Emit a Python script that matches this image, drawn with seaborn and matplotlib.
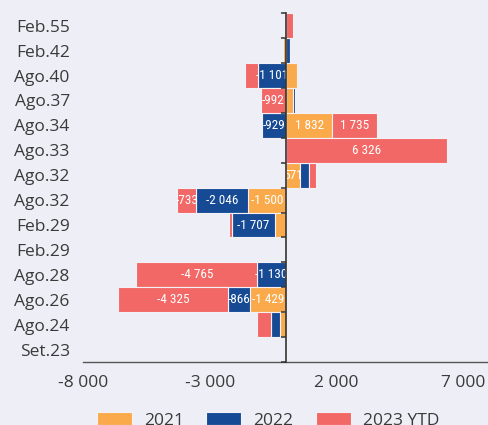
import matplotlib
matplotlib.use("Agg")
import matplotlib.pyplot as plt
from matplotlib import font_manager
import numpy as np
import pandas as pd
import seaborn as sns

# Categories (top to bottom) and yearly values per category
categories = ["Feb.55", "Feb.42", "Ago.40", "Ago.37", "Ago.34", "Ago.33", "Ago.32",
              "Ago.32", "Feb.29", "Feb.29", "Ago.28", "Ago.26", "Ago.24", "Set.23"]
series_names = ["2021", "2022", "2023 YTD"]
values_2021 = [0, -130, 420, 260, 1832, 0, 571, -1500, -433, 0, 40, -1429, -250, 45]
values_2022 = [-20, 140, -1101, 90, -929, 0, 330, -2046, -1707, 0, -1130, -866, -330, 0]
values_2023 = [285, 0, -500, -992, 1735, 6326, 290, -733, -90, 0, -4765, -4325, -560, -55]
series_colors = ["#FBAA4B", "#174A94", "#F26866"]
x_ticks = [-8000, -3000, 2000, 7000]

BG = "#EEEEF6"
TEXT = "#3A3A3A"
LABEL_MIN = 570  # segments shorter than this carry no value label

def fmt(v):
    return f"{v:,}".replace(",", " ")

# Pick a narrow face for the in-bar value labels
fonts = font_manager.fontManager.ttflist
names = {f.name for f in fonts}
label_font = dict(family="Roboto", fontsize=7.6)
for cand in ["Liberation Sans Narrow", "Roboto Condensed", "Open Sans Condensed",
             "DejaVu Sans Condensed", "Noto Sans Condensed"]:
    if cand in names:
        label_font = dict(family=cand, fontsize=9.5)
        break
else:
    if any(f.name == "DejaVu Sans" and f.stretch == "condensed" for f in fonts):
        label_font = dict(family="DejaVu Sans", fontstretch="condensed", fontsize=8.5)

sns.set_theme(style="white")
plt.rcParams["font.family"] = ["Open Sans", "DejaVu Sans"]

row_ids = [f"r{i}" for i in range(len(categories))]
df = pd.DataFrame({"row": row_ids, "2021": values_2021,
                   "2022": values_2022, "2023 YTD": values_2023})

fig = plt.figure(figsize=(4.89, 4.25), dpi=100, facecolor=BG)
ax = fig.add_axes([83 / 489, 63 / 425, 406 / 489, 348.7 / 425])
ax.set_facecolor(BG)

# Diverging stack: positives grow rightwards, negatives leftwards from zero
pos_base = np.zeros(len(df))
neg_base = np.zeros(len(df))
for name, color in zip(series_names, series_colors):
    vals = df[name].to_numpy(dtype=float)
    left = np.where(vals >= 0, pos_base, neg_base)
    sns.barplot(data=df, y="row", x=name, order=row_ids, orient="h",
                color=color, saturation=1, width=1.0, left=left,
                edgecolor="#F3F1F6", linewidth=0.8, ax=ax)
    pos_base = pos_base + np.clip(vals, 0, None)
    neg_base = neg_base + np.clip(vals, None, 0)
    labels = [fmt(int(v)) if abs(v) >= LABEL_MIN else "" for v in vals]
    ax.bar_label(ax.containers[-1], labels=labels, label_type="center",
                 color="white", **label_font)

ax.set_xlim(-8000, 8000)
ax.set_ylim(len(categories) - 0.5, -0.5)
ax.set_xticks(x_ticks)
ax.set_xticklabels([fmt(t) for t in x_ticks])
ax.set_yticks(range(len(categories)))
ax.set_yticklabels(categories)
ax.set_xlabel("")
ax.set_ylabel("")

ax.tick_params(axis="y", length=0, pad=9.5, labelsize=12.5, labelcolor=TEXT)
ax.tick_params(axis="x", length=3.4, width=1, color="#555555", pad=6,
               labelsize=12.5, labelcolor=TEXT)
for side in ["left", "top", "right"]:
    ax.spines[side].set_visible(False)
ax.spines["bottom"].set_color("#555555")
ax.spines["bottom"].set_linewidth(1)

# Zero axis with band-boundary ticks, drawn above the bars
zero_axis = ax.secondary_yaxis(0, transform=ax.transData)
zero_axis.set_zorder(5)
zero_axis.set_yticks(np.arange(len(categories) + 1) - 0.5)
zero_axis.set_yticklabels([])
zero_axis.tick_params(axis="y", left=True, length=3.5, width=1.1, color="#333333")
zero_axis.spines["left"].set_color("#333333")
zero_axis.spines["left"].set_linewidth(1.2)

fig.legend(ax.containers, series_names, loc="upper left",
           bbox_to_anchor=(97 / 489, 1 - 412 / 425), ncol=3, frameon=False,
           fontsize=12.5, labelcolor=TEXT, handlelength=2.0, handleheight=0.8,
           handletextpad=0.7, columnspacing=1.3, borderpad=0, borderaxespad=0)

fig.savefig("out.png", dpi=100, facecolor=BG)
